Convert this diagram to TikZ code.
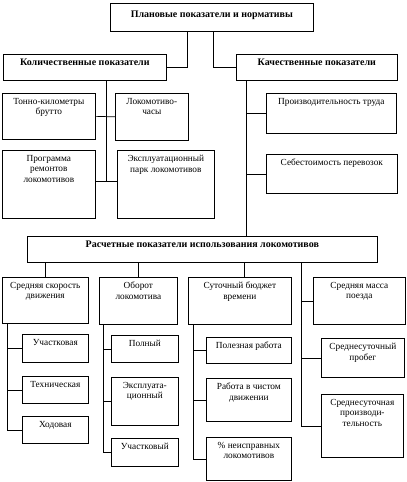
\documentclass[tikz,border=0pt]{standalone}
\usepackage{fontspec}
\setmainfont{Liberation Serif}
\usetikzlibrary{positioning}

\begin{document}
\begin{tikzpicture}[x=1pt, y=-1pt,
    box/.style={draw, line width=0.7pt, rectangle, anchor=north west, inner sep=0pt},
    txt/.style={anchor=north, align=center, font=\fontsize{9.3}{10.5}\selectfont, inner sep=0pt, yshift=-5pt},
    head/.style={txt, font=\fontsize{10}{11}\selectfont\bfseries}]
    \useasboundingbox (0,0) rectangle (407,482);

    % Top level
    \node[box, minimum width=203pt, minimum height=28pt, label={[head, yshift=-3pt]north:Плановые показатели и нормативы}] (plan) at (110,3) {};
    \node[box, minimum width=163pt, minimum height=26pt, label={[head]north:Количественные показатели}] (kolich) at (3,54) {};
    \node[box, minimum width=161pt, minimum height=26pt, label={[head]north:Качественные показатели}] (kachest) at (236,54) {};

    % Quantity indicators
    \node[box, minimum width=93pt, minimum height=46pt, label={[txt]north:Тонно-километры\\брутто}] (tonkm) at (2,93) {};
    \node[box, minimum width=73pt, minimum height=47pt, label={[txt]north:Локомотиво-\\часы}] (lokchas) at (115,93) {};
    \node[box, minimum width=93pt, minimum height=68pt, label={[txt]north:Программа\\ремонтов\\локомотивов}] (remont) at (2,150) {};
    \node[box, minimum width=97pt, minimum height=68pt, label={[txt]north:Эксплуатационный\\парк локомотивов}] (park) at (117,150) {};

    % Quality indicators
    \node[box, minimum width=130pt, minimum height=40pt, label={[txt]north:Производительность труда}] (trud) at (266,93) {};
    \node[box, minimum width=131pt, minimum height=39pt, label={[txt]north:Себестоимость перевозок}] (sebest) at (266,154) {};

    % Calculated indicators
    \node[box, minimum width=350pt, minimum height=26pt, label={[head]north:Расчетные показатели использования локомотивов}] (raschet) at (27,236) {};
    \node[box, minimum width=86pt, minimum height=46pt, label={[txt]north:Средняя скорость\\движения}] (skor) at (2,277) {};
    \node[box, minimum width=78pt, minimum height=47pt, label={[txt]north:Оборот\\локомотива}] (oborot) at (99,277) {};
    \node[box, minimum width=103pt, minimum height=47pt, label={[txt]north:Суточный бюджет\\времени}] (budget) at (188,277) {};
    \node[box, minimum width=92pt, minimum height=47pt, label={[txt]north:Средняя масса\\поезда}] (massa) at (313,277) {};

    % Speed
    \node[box, minimum width=66pt, minimum height=28pt, label={[txt]north:Участковая}] (uchastk) at (22,334) {};
    \node[box, minimum width=66pt, minimum height=27pt, label={[txt]north:Техническая}] (tehn) at (22,376) {};
    \node[box, minimum width=66pt, minimum height=27pt, label={[txt]north:Ходовая}] (hodov) at (22,416) {};

    % Turnover
    \node[box, minimum width=67pt, minimum height=27pt, label={[txt]north:Полный}] (poln) at (111,335) {};
    \node[box, minimum width=67pt, minimum height=48pt, label={[txt]north:Эксплуата-\\ционный}] (ekspl) at (111,377) {};
    \node[box, minimum width=67pt, minimum height=28pt, label={[txt]north:Участковый}] (uchastkv) at (111,438) {};

    % Time budget
    \node[box, minimum width=85pt, minimum height=26pt, label={[txt]north:Полезная работа}] (polez) at (206,337) {};
    \node[box, minimum width=85pt, minimum height=43pt, label={[txt]north:Работа в чистом\\движении}] (chist) at (206,378) {};
    \node[box, minimum width=85pt, minimum height=43pt, label={[txt]north:\% неисправных\\локомотивов}] (neispr) at (206,437) {};

    % Train mass
    \node[box, minimum width=83pt, minimum height=39pt, label={[txt]north:Среднесуточный\\пробег}] (probeg) at (321,338) {};
    \node[box, minimum width=82pt, minimum height=63pt, label={[txt]north:Среднесуточная\\производи-\\тельность}] (proizv) at (321,394) {};

    % Trunk points
    \coordinate (ltrunk) at (106,181);
    \coordinate (rtrunk) at (246,236);
    \coordinate (btrunk) at (244,262);
    \coordinate (mtrunk) at (301,262);

    % Connections
    \draw[line width=0.7pt] (plan.south -| 187,0) |- (kolich.east);
    \draw[line width=0.7pt] (plan.south -| 213,0) |- (kachest.west);
    \draw[line width=0.7pt] (kolich.south -| ltrunk) -- (ltrunk);
    \draw[line width=0.7pt] (tonkm.east) -- (lokchas.west);
    \draw[line width=0.7pt] (remont.east |- ltrunk) -- (park.west |- ltrunk);
    \draw[line width=0.7pt] (kachest.south -| rtrunk) -- (rtrunk);
    \draw[line width=0.7pt] (trud.west -| rtrunk) -- (trud.west);
    \draw[line width=0.7pt] (sebest.west -| rtrunk) -- (sebest.west);

    \draw[line width=0.7pt] (raschet.south -| skor.north) -- (skor.north);
    \draw[line width=0.7pt] (raschet.south -| oborot.north) -- (oborot.north);
    \draw[line width=0.7pt] (btrunk) -- (budget.north -| btrunk);
    \draw[line width=0.7pt] (mtrunk) |- (proizv.west);
    \draw[line width=0.7pt] (massa.west -| mtrunk) -- (massa.west);
    \draw[line width=0.7pt] (probeg.west -| mtrunk) -- (probeg.west);

    \draw[line width=0.7pt] (skor.south -| 7,0) |- (hodov.west);
    \draw[line width=0.7pt] (uchastk.west -| 7,0) -- (uchastk.west);
    \draw[line width=0.7pt] (tehn.west -| 7,0) -- (tehn.west);

    \draw[line width=0.7pt] (oborot.south -| 103,0) |- (uchastkv.west);
    \draw[line width=0.7pt] (poln.west -| 103,0) -- (poln.west);
    \draw[line width=0.7pt] (ekspl.west -| 103,0) -- (ekspl.west);

    \draw[line width=0.7pt] (budget.south -| 193,0) |- (neispr.west);
    \draw[line width=0.7pt] (polez.west -| 193,0) -- (polez.west);
    \draw[line width=0.7pt] (chist.west -| 193,0) -- (chist.west);
\end{tikzpicture}
\end{document}
